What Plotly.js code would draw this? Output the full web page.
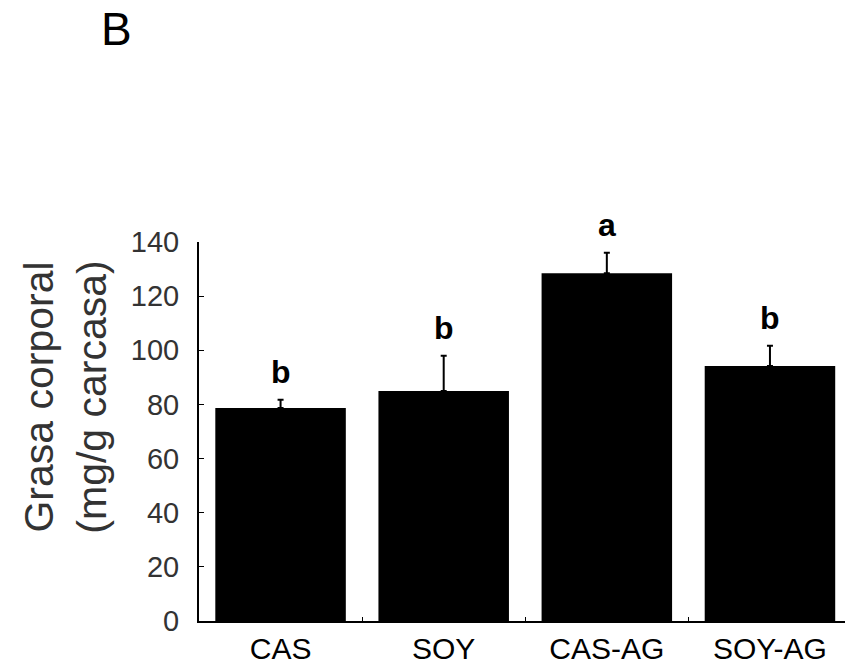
<!DOCTYPE html>
<html>
<head>
<meta charset="utf-8">
<script src="https://cdn.plot.ly/plotly-3.0.1.min.js"></script>
<style>html,body{margin:0;padding:0;background:#fff;overflow:hidden}#chart{width:845px;height:668px}</style>
</head>
<body>
<div id="chart"></div>
<script>
const categories = ["CAS", "SOY", "CAS-AG", "SOY-AG"];
const grasaValues = [78.7, 85, 128.5, 94.2];
const grasaErrors = [3, 13, 7.5, 7.5];
const significance = ["b", "b", "a", "b"];
const yTicks = [0, 20, 40, 60, 80, 100, 120, 140];
const panelLabel = "B";
const yTitleText = "Grasa corporal<br>(mg/g carcasa)";

const FONT = "Liberation Sans, Arial, sans-serif";

const trace = {
  type: "bar",
  x: categories,
  y: grasaValues,
  width: 0.8,
  marker: {color: "#000000", line: {width: 0}},
  error_y: {
    type: "data",
    symmetric: false,
    array: grasaErrors,
    arrayminus: grasaErrors.map(() => 0),
    color: "#000000",
    thickness: 2,
    width: 3
  },
  hoverinfo: "skip"
};

const annotations = categories.map((c, i) => ({
  x: c,
  y: grasaValues[i] + grasaErrors[i],
  xref: "x",
  yref: "y",
  text: "<b>" + significance[i] + "</b>",
  showarrow: false,
  yanchor: "bottom",
  yshift: 8,
  font: {family: FONT, size: 32, color: "#000"}
}));

annotations.push({
  xref: "paper", yref: "paper",
  x: -0.155, y: 1.637,
  xanchor: "left", yanchor: "top",
  text: panelLabel, showarrow: false,
  font: {family: FONT, size: 46, color: "#000"}
});

annotations.push({
  xref: "paper", yref: "paper",
  x: -0.207, y: 0.59,
  xanchor: "center", yanchor: "middle",
  textangle: -90,
  text: yTitleText, showarrow: false,
  font: {family: FONT, size: 41, color: "#333"}
});

const layout = {
  width: 845,
  height: 668,
  margin: {l: 199, r: 0, t: 242, b: 47},
  paper_bgcolor: "#ffffff",
  plot_bgcolor: "#ffffff",
  showlegend: false,
  bargap: 0.2,
  xaxis: {
    type: "category",
    range: [-0.5, 3.46],
    showline: true,
    linecolor: "#000",
    linewidth: 2,
    ticks: "inside",
    tickson: "boundaries",
    ticklen: 4,
    tickcolor: "#000",
    tickwidth: 1,
    showgrid: false,
    zeroline: false,
    tickfont: {family: FONT, size: 30, color: "#000"},
    ticklabelstandoff: 0
  },
  yaxis: {
    range: [0, 140],
    tickvals: yTicks,
    ticktext: yTicks.map(String),
    showline: true,
    linecolor: "#000",
    linewidth: 2,
    ticks: "inside",
    ticklen: 5,
    tickcolor: "#000",
    tickwidth: 1,
    showgrid: false,
    zeroline: false,
    tickfont: {family: FONT, size: 29, color: "#333"},
    ticklabelstandoff: 12
  },
  annotations: annotations
};

Plotly.newPlot("chart", [trace], layout, {displayModeBar: false, staticPlot: true});
</script>
</body>
</html>
